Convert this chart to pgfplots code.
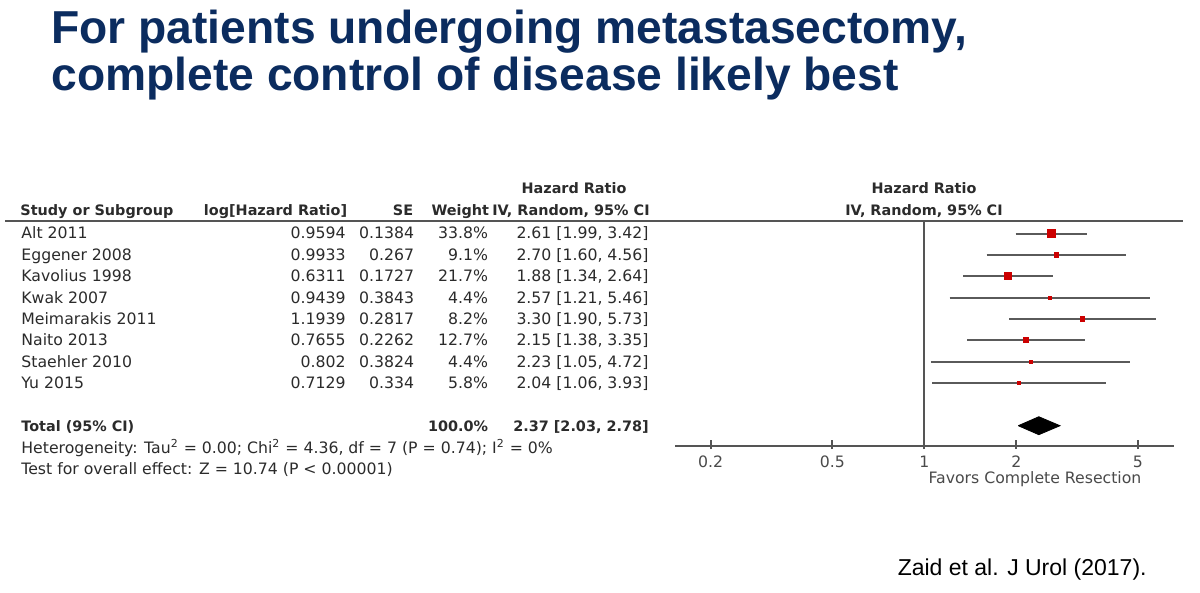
\documentclass[border=0pt]{standalone}
\usepackage{pgfplots}
\pgfplotsset{compat=1.18}
\usepackage{pgfplotstable}
\usepackage{fontspec}
\setmainfont{DejaVu Sans}
\newfontfamily\titlefont{Liberation Sans}
\newfontfamily\tabfont{DejaVu Sans}
\newfontfamily\citefont{Liberation Sans}

\definecolor{titleblue}{HTML}{0B2C5F}
\definecolor{txt}{HTML}{2B2B2B}
\definecolor{rulegray}{HTML}{555555}
\definecolor{cigray}{HTML}{5A5A5A}
\definecolor{labgray}{HTML}{4A4A4A}
\definecolor{sqred}{HTML}{CC0000}

% regular and bold table fonts
\newcommand\tf{\tabfont\fontsize{7.85pt}{9pt}\selectfont}
\newcommand\tfb{\tabfont\bfseries\fontsize{7.2pt}{8.6pt}\selectfont}

% hazard ratio, 95% CI and weight of each study (row = line of the table)
\pgfplotstableread{
row hr   lo   hi   w
1   2.61 1.99 3.42 33.8
2   2.70 1.60 4.56 9.1
3   1.88 1.34 2.64 21.7
4   2.57 1.21 5.46 4.4
5   3.30 1.90 5.73 8.2
6   2.15 1.38 3.35 12.7
7   2.23 1.05 4.72 4.4
8   2.04 1.06 3.93 5.8
}\studies

% confidence interval segments, separated by nan
\pgfplotstableread{
x    y
1.99 -1
3.42 -1
nan  nan
1.60 -2
4.56 -2
nan  nan
1.34 -3
2.64 -3
nan  nan
1.21 -4
5.46 -4
nan  nan
1.90 -5
5.73 -5
nan  nan
1.38 -6
3.35 -6
nan  nan
1.05 -7
4.72 -7
nan  nan
1.06 -8
3.93 -8
}\cis

\begin{document}
\begin{tikzpicture}
\begin{scope}[x=0.5pt,y=-0.5pt]
  \fill[white] (0,0) rectangle (1200,593);
  \path[use as bounding box] (0,0) rectangle (1200,593);

  % title
  \node[anchor=base west, inner sep=0, text=titleblue,
        font=\titlefont\bfseries\fontsize{23.1pt}{23.5pt}\selectfont]
        at (51,44) {For patients undergoing metastasectomy,};
  \node[anchor=base west, inner sep=0, text=titleblue,
        font=\titlefont\bfseries\fontsize{23.1pt}{23.5pt}\selectfont]
        at (51,91) {complete control of disease likely best};

  % column headers
  \begin{scope}[every node/.style={inner sep=0, text=txt, font=\tfb}]
    \node[anchor=mid] at (574,188) {Hazard Ratio};
    \node[anchor=mid west] at (20,210) {Study or Subgroup};
    \node[anchor=mid east] at (347.5,210) {log[Hazard Ratio]};
    \node[anchor=mid east] at (413.5,210) {SE};
    \node[anchor=mid east] at (489.5,210) {Weight};
    \node[anchor=mid east] at (650,210) {IV, Random, 95\% CI};
    \node[anchor=mid] at (924,188) {Hazard Ratio};
    \node[anchor=mid] at (924,210) {IV, Random, 95\% CI};
  \end{scope}
  \draw[rulegray, line width=1pt] (5,220.7) -- (1183,220.7);

  % study rows
  \begin{scope}[every node/.style={inner sep=0, text=txt, font=\tf}]
    \foreach \k/\name/\lg/\se/\wt/\ci in {
      1/Alt 2011/0.9594/0.1384/33.8/{2.61 [1.99, 3.42]},
      2/Eggener 2008/0.9933/0.267/9.1/{2.70 [1.60, 4.56]},
      3/Kavolius 1998/0.6311/0.1727/21.7/{1.88 [1.34, 2.64]},
      4/Kwak 2007/0.9439/0.3843/4.4/{2.57 [1.21, 5.46]},
      5/Meimarakis 2011/1.1939/0.2817/8.2/{3.30 [1.90, 5.73]},
      6/Naito 2013/0.7655/0.2262/12.7/{2.15 [1.38, 3.35]},
      7/Staehler 2010/0.802/0.3824/4.4/{2.23 [1.05, 4.72]},
      8/Yu 2015/0.7129/0.334/5.8/{2.04 [1.06, 3.93]}}{
      \node[anchor=mid west] at (21,{233.5+(\k-1)*21.35}) {\name};
      \node[anchor=mid east] at (346,{233.5+(\k-1)*21.35}) {\lg};
      \node[anchor=mid east] at (414.5,{233.5+(\k-1)*21.35}) {\se};
      \node[anchor=mid east] at (488.5,{233.5+(\k-1)*21.35}) {\wt\%};
      \node[anchor=mid east] at (649,{233.5+(\k-1)*21.35}) {\ci};
    }
    \node[anchor=mid west, font=\tfb] at (21,425.7) {Total (95\% CI)};
    \node[anchor=mid east, font=\tfb] at (488.5,425.7) {100.0\%};
    \node[anchor=mid east, font=\tfb] at (649,425.7) {2.37 [2.03, 2.78]};
    \node[anchor=mid west] at (21,448) {Heterogeneity: Tau\textsuperscript{2} = 0.00; Chi\textsuperscript{2} = 4.36, df = 7 (P = 0.74); I\textsuperscript{2} = 0\%};
    \node[anchor=mid west] at (21,469.5) {Test for overall effect: Z = 10.74 (P < 0.00001)};
    \node[anchor=mid, text=labgray] at (1035,478.5) {Favors Complete Resection};
  \end{scope}

  % source
  \node[anchor=base east, inner sep=0, text=black,
        font=\citefont\fontsize{11.5pt}{13pt}\selectfont]
        at (1147,575) {Zaid et al. J Urol (2017).};
\end{scope}

\begin{axis}[
  at={(337.5pt,-223pt)}, anchor=south west,
  scale only axis, width=249.5pt, height=112.65pt,
  xmode=log, xmin=0.1528, xmax=6.564,
  ymin=-10.95, ymax=-0.40,
  axis x line*=bottom, axis y line=none,
  x axis line style={rulegray, line width=1pt},
  xtick={0.2,0.5,1,2,5}, xticklabels={0.2,0.5,1,2,5},
  minor xtick={},
  tick align=center, major tick length=4.5pt,
  xtick style={rulegray, line width=0.9pt, yshift=0.75pt},
  xticklabel style={font=\tf, text=labgray, anchor=mid, yshift=-5.8pt, inner sep=0},
  clip=false,
]
  % line of no effect
  \addplot[rulegray, line width=1pt] coordinates {(1,-0.40) (1,-10.95)};
  % confidence intervals
  \addplot[cigray, line width=1pt, unbounded coords=jump] table[x=x, y=y] {\cis};
  % point estimates, square size from study weight
  \addplot[scatter, only marks, mark=square*,
    scatter/use mapped color={draw=sqred, fill=sqred},
    visualization depends on={\thisrow{w} \as \wt},
    scatter/@pre marker code/.append style={/tikz/mark size={0.36*sqrt(\wt)}}]
    table[x=hr, y expr=-\thisrow{row}] {\studies};
  % pooled estimate
  \addplot[fill=black, draw=black, line width=0.4pt]
    coordinates {(2.03,-10) (2.37,-9.58) (2.78,-10) (2.37,-10.42) (2.03,-10)};
\end{axis}
\end{tikzpicture}
\end{document}
